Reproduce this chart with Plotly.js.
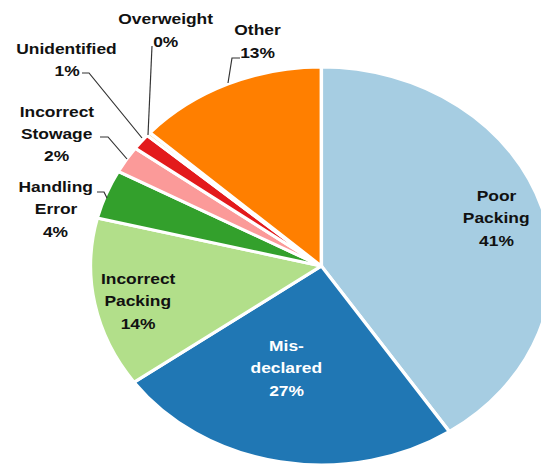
<!DOCTYPE html>
<html>
<head>
<meta charset="utf-8">
<script src="https://cdn.plot.ly/plotly-3.0.1.min.js"></script>
<style>
  html, body { margin: 0; padding: 0; width: 541px; height: 466px; overflow: hidden; background: #ffffff; }
  #chart { transform: scaleX(1.16); transform-origin: 0 0; }
</style>
</head>
<body>
<div id="chart"></div>
<script>
// ---- data ----
const categories = ['Poor Packing', 'Mis-declared', 'Incorrect Packing', 'Handling Error',
                    'Incorrect Stowage', 'Unidentified', 'Overweight', 'Other'];
const values = [40.6, 24.4, 13.8, 4.0, 2.2, 1.3, 0.3, 13.3];
const percentLabels = ['41%', '27%', '14%', '4%', '2%', '1%', '0%', '13%'];
const nameLines = [['Poor', 'Packing'], ['Mis-', 'declared'], ['Incorrect', 'Packing'],
                   ['Handling', 'Error'], ['Incorrect', 'Stowage'], ['Unidentified'],
                   ['Overweight'], ['Other']];

// ---- styling / layout (not data) ----
const colors = ['#a6cde2', '#2077b4', '#b2df8a', '#33a02c', '#fb9a99', '#e31a1c', '#fdd9a0', '#ff7f00'];
const textColors = ['#111', '#ffffff', '#111', '#111', '#111', '#111', '#111', '#111'];
const SX = 1.16;          // horizontal stretch of the picture
const W = 554, H = 532;   // unscaled plot size
const R = 199, CX = 277, CY = 266;
// label anchor (centre of first line) in picture pixels
const labelPos = [[497, 195], [286, 345], [138, 278], [56, 186], [57, 111], [67, 48], [166, 19], [258, 30]];
const LINE = 22.5;
const leaders = [
  [[152, 46], [148, 135]],
  [[82, 73], [89, 73], [142, 138]],
  [[100, 137], [108, 137], [127, 159]],
  [[97, 192], [104, 192], [107, 198]],
  [[240, 58], [232, 58], [228, 83]]
];

const px = x => (x / SX) / W;
const py = y => 1 - y / H;

const annotations = [];
categories.forEach((c, i) => {
  const lines = nameLines[i].concat([percentLabels[i]]);
  lines.forEach((t, k) => {
    annotations.push({
      xref: 'paper', yref: 'paper',
      x: px(labelPos[i][0]), y: py(labelPos[i][1] + k * LINE),
      xanchor: 'center', yanchor: 'middle',
      text: '<b>' + t + '</b>', showarrow: false,
      font: { family: 'Liberation Sans, Arial, sans-serif', size: 15, color: textColors[i] }
    });
  });
});

const shapes = leaders.map(pts => ({
  type: 'path', xref: 'paper', yref: 'paper',
  path: pts.map((p, k) => (k ? 'L' : 'M') + px(p[0]) + ',' + py(p[1])).join(' '),
  line: { color: '#333333', width: 1 }
}));

const trace = {
  type: 'pie',
  labels: categories,
  values: values,
  sort: false,
  direction: 'clockwise',
  rotation: 0,
  textinfo: 'none',
  marker: { colors: colors, line: { color: '#ffffff', width: 3 } },
  domain: { x: [(CX - R) / W, (CX + R) / W], y: [(CY - R) / H, (CY + R) / H] },
  showlegend: false
};

const layout = {
  width: W, height: H,
  margin: { l: 0, r: 0, t: 0, b: 0 },
  paper_bgcolor: '#ffffff',
  showlegend: false,
  annotations: annotations,
  shapes: shapes
};

Plotly.newPlot('chart', [trace], layout, { displayModeBar: false, staticPlot: true });
</script>
</body>
</html>
